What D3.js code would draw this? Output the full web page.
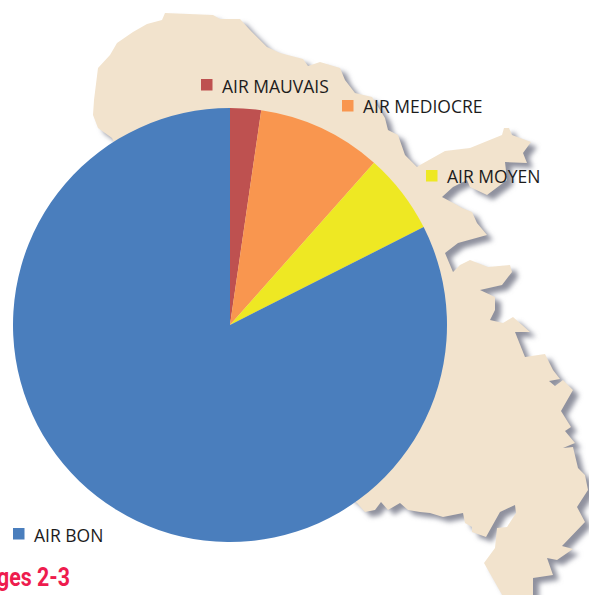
<!DOCTYPE html>
<html lang="en">
<head>
<meta charset="utf-8">
<title>Qualite de l'air</title>
<script src="https://cdn.jsdelivr.net/npm/d3@7"></script>
<style>
  html, body { margin: 0; padding: 0; background: #fff; overflow: hidden; }
  svg { display: block; }
</style>
</head>
<body>
<div id="chart"></div>
<script>
const categories = ["AIR MAUVAIS", "AIR MEDIOCRE", "AIR MOYEN", "AIR BON"];
const shares = [2.3, 9.25, 6, 82.45];
const sliceColors = ["#be5150", "#f9964f", "#eee823", "#4a7ebd"];

// background island outline (decoration, not data)
const islandOutline = [
  [165,13],[213,15],[220,19],[240,19],[250,30],[267,47],[280,53],[303,59],[308,66],[320,62],[340,68],
  [345,80],[355,93],[372,97],[385,118],[388,130],[398,135],[405,155],[417,167],[420,165],[445,151],
  [470,148],[502,135],[504,128],[509,128],[512,135],[531,142],[523,153],[527,163],[505,162],[507,180],
  [487,195],[470,187],[467,180],[453,187],[442,197],[457,205],[462,208],[472,212],[477,223],[487,235],
  [458,243],[445,253],[453,272],[460,265],[470,260],[488,267],[510,265],[512,272],[502,285],[480,290],
  [495,297],[495,310],[490,320],[503,323],[513,317],[530,332],[515,332],[525,357],[545,354],[553,370],[560,379],
  [549,381],[555,386],[563,380],[573,390],[561,411],[571,427],[565,431],[575,443],[563,448],[573,447],
  [578,468],[585,475],[588,490],[577,507],[585,522],[562,546],[573,549],[557,560],[547,558],[553,575],
  [533,578],[533,600],[505,600],[484,563],[495,548],[497,528],[507,527],[516,513],[515,505],[500,512],
  [486,537],[472,532],[472,527],[465,523],[463,513],[443,517],[430,513],[420,512],[408,510],[400,503],
  [388,510],[381,502],[375,510],[365,512],[357,503],[230,400],[112,138],[98,128],[93,115],[94,100],
  [98,68],[110,55],[117,43],[133,32],[147,24],[162,20]
];

const w = 589;
const h = 595;
const cx = 230;
const cy = 325;
const radius = 217;

// legend anchors [square x, square y, text x, text baseline], same order as categories
const legendPos = [
  [201, 79, 222, 93],
  [342, 100, 363, 113],
  [426, 170, 447, 183],
  [13, 528, 34, 542]
];

const color = d3.scaleOrdinal().domain(categories).range(sliceColors);

const svg = d3.select("#chart")
  .append("svg")
  .attr("width", w)
  .attr("height", h);

const defs = svg.append("defs");
defs.append("filter")
  .attr("id", "blurShadow")
  .attr("x", "-5%").attr("y", "-5%")
  .attr("width", "110%").attr("height", "110%")
  .append("feGaussianBlur")
  .attr("stdDeviation", 2.4);

const outline = d3.line().curve(d3.curveLinearClosed);

svg.append("path")
  .attr("d", outline(islandOutline))
  .attr("transform", "translate(6,5)")
  .attr("fill", "#8f919e")
  .attr("filter", "url(#blurShadow)");

svg.append("path")
  .attr("d", outline(islandOutline))
  .attr("fill", "#f2e3cd");

const pie = d3.pie().sort(null);
const arc = d3.arc().innerRadius(0).outerRadius(radius);

svg.append("g")
  .attr("transform", "translate(" + cx + "," + cy + ")")
  .selectAll("path")
  .data(pie(shares))
  .enter()
  .append("path")
  .attr("d", arc)
  .attr("fill", (d, i) => color(categories[i]));

const legend = svg.append("g");

legend.selectAll("rect")
  .data(categories)
  .enter()
  .append("rect")
  .attr("x", (d, i) => legendPos[i][0])
  .attr("y", (d, i) => legendPos[i][1])
  .attr("width", 11.5)
  .attr("height", 11.5)
  .attr("fill", (d) => color(d));

legend.selectAll("text")
  .data(categories)
  .enter()
  .append("text")
  .attr("x", (d, i) => legendPos[i][2])
  .attr("y", (d, i) => legendPos[i][3])
  .attr("font-family", "'Open Sans', 'Noto Sans', sans-serif")
  .attr("font-size", 17.5)
  .attr("fill", "#1c1c1c")
  .text((d) => d);

// cropped caption from the page the chart was cut out of
svg.append("text")
  .attr("x", -3)
  .attr("y", 586)
  .attr("font-family", "Roboto, sans-serif")
  .attr("font-weight", 700)
  .attr("font-size", 25)
  .attr("fill", "#ee1c4e")
  .attr("textLength", 73)
  .attr("lengthAdjust", "spacingAndGlyphs")
  .text("ges 2-3");
</script>
</body>
</html>
